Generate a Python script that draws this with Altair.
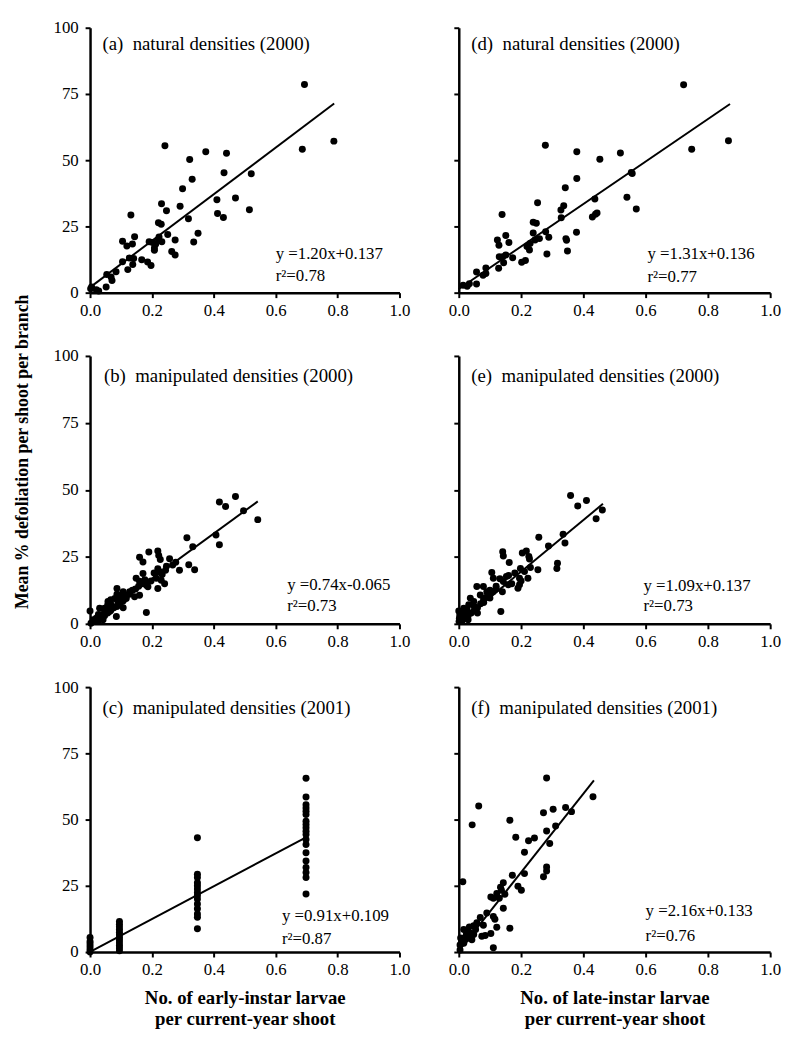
import altair as alt
import pandas as pd

FONT = "Liberation Serif"

XTICKS = [0.0, 0.2, 0.4, 0.6, 0.8, 1.0]
YTICKS = [0, 25, 50, 75, 100]

TITLES = [
    "(a)\u00a0\u00a0natural densities (2000)",
    "(d)\u00a0\u00a0natural densities (2000)",
    "(b)\u00a0\u00a0manipulated densities (2000)",
    "(e)\u00a0\u00a0manipulated densities (2000)",
    "(c)\u00a0\u00a0manipulated densities (2001)",
    "(f)\u00a0\u00a0manipulated densities (2001)",
]
EQS = ["y =1.20x+0.137", "y =1.31x+0.136", "y =0.74x-0.065",
       "y =1.09x+0.137", "y =0.91x+0.109", "y =2.16x+0.133"]
R2S = ["r\u00b2=0.78", "r\u00b2=0.77", "r\u00b2=0.73", "r\u00b2=0.73", "r\u00b2=0.87", "r\u00b2=0.76"]

Y_TITLE = "Mean % defoliation per shoot per branch"
X_TITLE_EARLY = ["No. of early-instar larvae", "per current-year shoot"]
X_TITLE_LATE = ["No. of late-instar larvae", "per current-year shoot"]

# regression lines (two end points each)
LINE_A = [(0.0, 2.0), (0.789, 71.4)]
LINE_D = [(0.0, 1.4), (0.871, 71.2)]
LINE_B = [(0.0, 0.0), (0.542, 45.7)]
LINE_E = [(0.0, 0.2), (0.463, 44.8)]
LINE_C = [(0.0, 0.1), (0.695, 43.1)]
LINE_F = [(0.0, 0.4), (0.434, 64.8)]

PTS_A = [(0.693, 78.6), (0.686, 54.1), (0.788, 57.2), (0.242, 55.5), (0.322, 50.3), (0.374, 53.2),
         (0.441, 52.6), (0.433, 45.3), (0.521, 44.9), (0.330, 42.8), (0.299, 39.2), (0.410, 35.1),
         (0.470, 35.7), (0.231, 33.6), (0.291, 32.6), (0.247, 30.9), (0.132, 29.3), (0.412, 29.9),
         (0.431, 28.4), (0.515, 31.3), (0.318, 27.9), (0.221, 26.4), (0.230, 25.8), (0.349, 22.4),
         (0.335, 19.1), (0.251, 22.0), (0.223, 21.0), (0.221, 20.0), (0.232, 19.2), (0.275, 19.9),
         (0.191, 19.2), (0.202, 18.9), (0.212, 18.3), (0.105, 19.4), (0.119, 17.6), (0.137, 18.4),
         (0.144, 21.1), (0.208, 16.9), (0.208, 16.0), (0.264, 15.5), (0.275, 14.2), (0.167, 12.4),
         (0.127, 13.1), (0.141, 12.9), (0.186, 11.6), (0.197, 10.3), (0.105, 11.7), (0.138, 10.6),
         (0.122, 8.7), (0.084, 7.9), (0.054, 6.9), (0.068, 5.9), (0.071, 4.6), (0.052, 2.1),
         (0.020, 1.1), (0.005, 2.1), (0.028, 0.6), (0.002, 1.5)]

PTS_D = [(0.722, 78.5), (0.748, 54.1), (0.866, 57.3), (0.278, 55.6), (0.379, 53.2), (0.519, 52.7),
         (0.453, 50.4), (0.554, 45.4), (0.557, 45.0), (0.379, 43.1), (0.342, 39.6), (0.437, 35.4),
         (0.540, 36.0), (0.570, 31.6), (0.253, 33.9), (0.337, 32.8), (0.328, 31.2), (0.429, 28.6),
         (0.439, 29.6), (0.444, 30.1), (0.329, 28.3), (0.139, 29.5), (0.239, 26.6), (0.249, 26.2),
         (0.279, 23.0), (0.289, 20.9), (0.239, 22.5), (0.259, 20.4), (0.378, 22.8), (0.344, 20.4),
         (0.346, 19.8), (0.124, 19.9), (0.129, 17.9), (0.151, 21.6), (0.161, 18.9), (0.245, 19.9),
         (0.229, 18.6), (0.219, 17.4), (0.227, 16.1), (0.349, 15.7), (0.283, 14.6), (0.130, 13.6),
         (0.141, 13.6), (0.173, 13.2), (0.151, 14.2), (0.144, 11.3), (0.128, 9.2), (0.214, 12.1),
         (0.202, 11.5), (0.057, 7.8), (0.087, 9.3), (0.078, 6.6), (0.087, 7.2), (0.034, 3.4),
         (0.057, 3.3), (0.027, 2.4), (0.014, 2.8)]

PTS_B = [(0.470, 47.5), (0.418, 45.5), (0.438, 43.8), (0.496, 42.2), (0.542, 38.9), (0.407, 33.2),
         (0.418, 29.5), (0.313, 32.1), (0.332, 28.8), (0.289, 20.0), (0.319, 22.1), (0.338, 20.2),
         (0.190, 26.8), (0.219, 27.2), (0.160, 24.9), (0.171, 23.1), (0.222, 25.5), (0.227, 24.0),
         (0.257, 24.3), (0.219, 20.6), (0.225, 19.4), (0.244, 20.0), (0.233, 18.4), (0.149, 17.0),
         (0.160, 15.9), (0.171, 18.8), (0.182, 14.4), (0.214, 17.0), (0.230, 16.3), (0.219, 13.2),
         (0.241, 15.0), (0.187, 13.8), (0.128, 12.0), (0.144, 10.1), (0.160, 10.7), (0.106, 11.4),
         (0.117, 9.5), (0.087, 13.2), (0.080, 9.5), (0.069, 7.0), (0.090, 8.3), (0.058, 8.3),
         (0.047, 5.8), (0.063, 4.6), (0.085, 2.7), (0.037, 3.3), (0.020, 2.1), (0.010, 1.5),
         (0.000, 4.8), (0.031, 5.8), (0.042, 1.5), (0.026, 0.9), (0.003, 0.2), (0.182, 4.2),
         (0.097, 10.0), (0.107, 8.5), (0.127, 11.0), (0.137, 12.5), (0.147, 13.0), (0.067, 5.0),
         (0.077, 6.0), (0.087, 6.5), (0.097, 7.5), (0.057, 4.0), (0.047, 3.0), (0.037, 2.0),
         (0.027, 3.5), (0.017, 1.0), (0.057, 7.0), (0.107, 12.0), (0.117, 10.5), (0.157, 14.0),
         (0.167, 15.0), (0.197, 16.0), (0.267, 22.0), (0.277, 23.0), (0.207, 19.0), (0.247, 21.5),
         (0.177, 16.5), (0.067, 9.0), (0.087, 11.0), (0.047, 4.5), (0.027, 1.5), (0.107, 6.0)]

PTS_E = [(0.359, 47.9), (0.410, 46.0), (0.382, 44.0), (0.461, 42.5), (0.441, 39.2), (0.257, 32.3),
         (0.335, 33.4), (0.341, 30.2), (0.288, 29.1), (0.317, 22.6), (0.315, 20.7), (0.141, 26.9),
         (0.143, 25.3), (0.162, 22.9), (0.204, 26.4), (0.217, 27.2), (0.225, 25.1), (0.227, 24.2),
         (0.198, 20.7), (0.211, 19.5), (0.222, 17.0), (0.195, 17.0), (0.254, 20.2), (0.106, 19.2),
         (0.111, 17.0), (0.132, 16.8), (0.143, 15.8), (0.153, 17.7), (0.159, 14.6), (0.190, 13.3),
         (0.195, 14.6), (0.058, 13.9), (0.079, 13.9), (0.069, 10.8), (0.090, 12.0), (0.100, 9.6),
         (0.079, 8.3), (0.037, 9.6), (0.048, 8.3), (0.032, 7.1), (0.016, 5.8), (0.006, 4.6),
         (0.027, 5.2), (0.003, 3.3), (0.002, 2.1), (0.016, 2.1), (0.001, 0.9), (0.000, 4.8),
         (0.135, 4.6), (0.030, 3.0), (0.050, 5.0), (0.060, 6.0), (0.070, 7.5), (0.080, 8.0),
         (0.090, 10.0), (0.100, 11.0), (0.110, 12.0), (0.120, 13.0), (0.040, 4.0), (0.020, 2.0),
         (0.010, 1.0), (0.050, 6.5), (0.080, 9.5), (0.100, 12.5), (0.120, 14.0), (0.140, 12.0),
         (0.160, 18.0), (0.170, 15.0), (0.180, 19.0), (0.230, 21.0), (0.200, 16.0), (0.060, 4.0),
         (0.030, 1.5), (0.015, 3.5)]

PTS_C = [(0.0, 0.0), (0.0, 1.0), (0.0, 2.0), (0.0, 3.0), (0.0, 4.0), (0.0, 5.5),
         (0.095, 0.5), (0.095, 1.5), (0.095, 2.5), (0.095, 3.5), (0.095, 4.5), (0.095, 5.5),
         (0.095, 6.5), (0.095, 7.5), (0.095, 8.5), (0.095, 9.5), (0.095, 10.5), (0.095, 11.5),
         (0.347, 43.1), (0.347, 29.4), (0.347, 28.1), (0.347, 26.2), (0.347, 25.0), (0.347, 23.8),
         (0.347, 22.5), (0.347, 21.3), (0.347, 20.0), (0.347, 18.1), (0.347, 16.3), (0.347, 14.4),
         (0.347, 13.1), (0.347, 8.8),
         (0.698, 65.6), (0.698, 58.5), (0.698, 55.6), (0.698, 54.4), (0.698, 53.1), (0.698, 51.9),
         (0.698, 49.4), (0.698, 48.1), (0.698, 46.9), (0.698, 45.6), (0.698, 44.4), (0.698, 42.5),
         (0.698, 40.6), (0.698, 37.5), (0.698, 34.4), (0.698, 31.9), (0.698, 30.0), (0.698, 28.1),
         (0.698, 21.9)]

PTS_F = [(0.282, 65.7), (0.431, 58.6), (0.064, 55.1), (0.043, 48.0), (0.164, 49.7), (0.272, 52.6),
         (0.303, 53.9), (0.343, 54.6), (0.362, 53.0), (0.311, 47.6), (0.282, 45.7), (0.292, 41.0),
         (0.183, 43.3), (0.224, 42.0), (0.243, 43.0), (0.211, 37.7), (0.282, 32.1), (0.282, 30.6),
         (0.272, 28.4), (0.211, 29.6), (0.172, 29.0), (0.013, 26.5), (0.190, 24.8), (0.201, 23.3),
         (0.143, 26.2), (0.134, 24.5), (0.137, 23.3), (0.122, 22.1), (0.148, 21.8), (0.130, 20.3),
         (0.143, 16.5), (0.103, 20.8), (0.111, 20.3), (0.090, 14.7), (0.111, 13.4), (0.116, 12.4),
         (0.122, 9.4), (0.164, 9.0), (0.069, 13.0), (0.058, 11.1), (0.079, 10.1), (0.048, 9.9),
         (0.074, 6.0), (0.085, 6.2), (0.103, 7.0), (0.111, 1.6), (0.016, 8.5), (0.027, 7.8),
         (0.037, 7.2), (0.048, 6.6), (0.032, 5.3), (0.021, 4.6), (0.011, 3.6), (0.004, 2.7),
         (0.006, 5.3), (0.004, 0.8), (0.016, 3.3), (0.042, 4.6), (0.034, 9.5), (0.054, 8.5),
         (0.024, 6.5)]

# per panel text placement in data coordinates
TITLE_POS = [(0.04, 94), (0.04, 94), (0.045, 92.5), (0.04, 92.5), (0.04, 92), (0.04, 92)]
EQ_POS = [(0.60, 14.6, 6.2), (0.606, 14.7, 6.0), (0.637, 14.5, 6.5),
          (0.593, 14.0, 6.5), (0.62, 13.5, 5.0), (0.60, 15.5, 6.0)]


def panel(i, pts, line, w, h, left, xtitle=None, ytitle=None):
    df = pd.DataFrame(pts, columns=["x", "y"])
    ldf = pd.DataFrame(line, columns=["x", "y"])
    tdf = pd.DataFrame({"x": [TITLE_POS[i][0]], "y": [TITLE_POS[i][1]], "t": [TITLES[i]]})
    edf = pd.DataFrame({"x": [EQ_POS[i][0], EQ_POS[i][0]],
                        "y": [EQ_POS[i][1], EQ_POS[i][2]],
                        "t": [EQS[i], R2S[i]]})

    xaxis = dict(values=XTICKS, format=".1f", labelFont=FONT, labelFontSize=17,
                 labelColor="black", domainColor="black", domainWidth=2.5,
                 tickColor="black", tickWidth=2, tickSize=5, labelPadding=5,
                 grid=False, labelFlush=False)
    if xtitle is not None:
        xaxis.update(titleFont=FONT, titleFontSize=19, titleFontWeight="bold",
                     titleColor="black", titlePadding=11, titleLineHeight=21)
    yaxis = dict(values=YTICKS, labels=left, labelFont=FONT, labelFontSize=17,
                 labelColor="black", domainColor="black", domainWidth=2.5,
                 tickColor="black", tickWidth=2, tickSize=5, labelPadding=7,
                 grid=False)
    if ytitle is not None:
        yaxis.update(titleFont=FONT, titleFontSize=18, titleFontWeight="bold",
                     titleColor="black", titleX=-68, titleY=96.5,
                     titleBaseline="middle", titleAlign="center")

    xs = alt.Scale(domain=[0, 1], nice=False)
    ys = alt.Scale(domain=[0, 100], nice=False)
    X = alt.X("x:Q", scale=xs, axis=alt.Axis(**xaxis), title=xtitle)
    Y = alt.Y("y:Q", scale=ys, axis=alt.Axis(**yaxis), title=ytitle)

    pts_l = alt.Chart(df).mark_circle(size=50, color="black", opacity=1).encode(x=X, y=Y)
    line_l = alt.Chart(ldf).mark_line(color="black", strokeWidth=2).encode(x=X, y=Y)
    t_l = alt.Chart(tdf).mark_text(align="left", baseline="middle", font=FONT,
                                   fontSize=19, color="black").encode(x=X, y=Y, text="t:N")
    e_l = alt.Chart(edf).mark_text(align="left", baseline="middle", font=FONT,
                                   fontSize=17, color="black").encode(x=X, y=Y, text="t:N")
    return alt.layer(pts_l, line_l, t_l, e_l).properties(width=w, height=h)


pa = panel(0, PTS_A, LINE_A, 313, 268, True)
pd_ = panel(1, PTS_D, LINE_D, 315, 268, False)
pb = panel(2, PTS_B, LINE_B, 313, 271, True, ytitle=Y_TITLE)
pe = panel(3, PTS_E, LINE_E, 315, 271, False)
pc = panel(4, PTS_C, LINE_C, 313, 268, True, xtitle=X_TITLE_EARLY)
pf = panel(5, PTS_F, LINE_F, 315, 268, False, xtitle=X_TITLE_LATE)

chart = alt.concat(pa, pd_, pb, pe, pc, pf, columns=2, bounds="flush",
                   spacing={"row": 64, "column": 60}).configure_view(strokeWidth=0)

chart.save("out.html", embed_options={"renderer": "svg", "actions": False})
